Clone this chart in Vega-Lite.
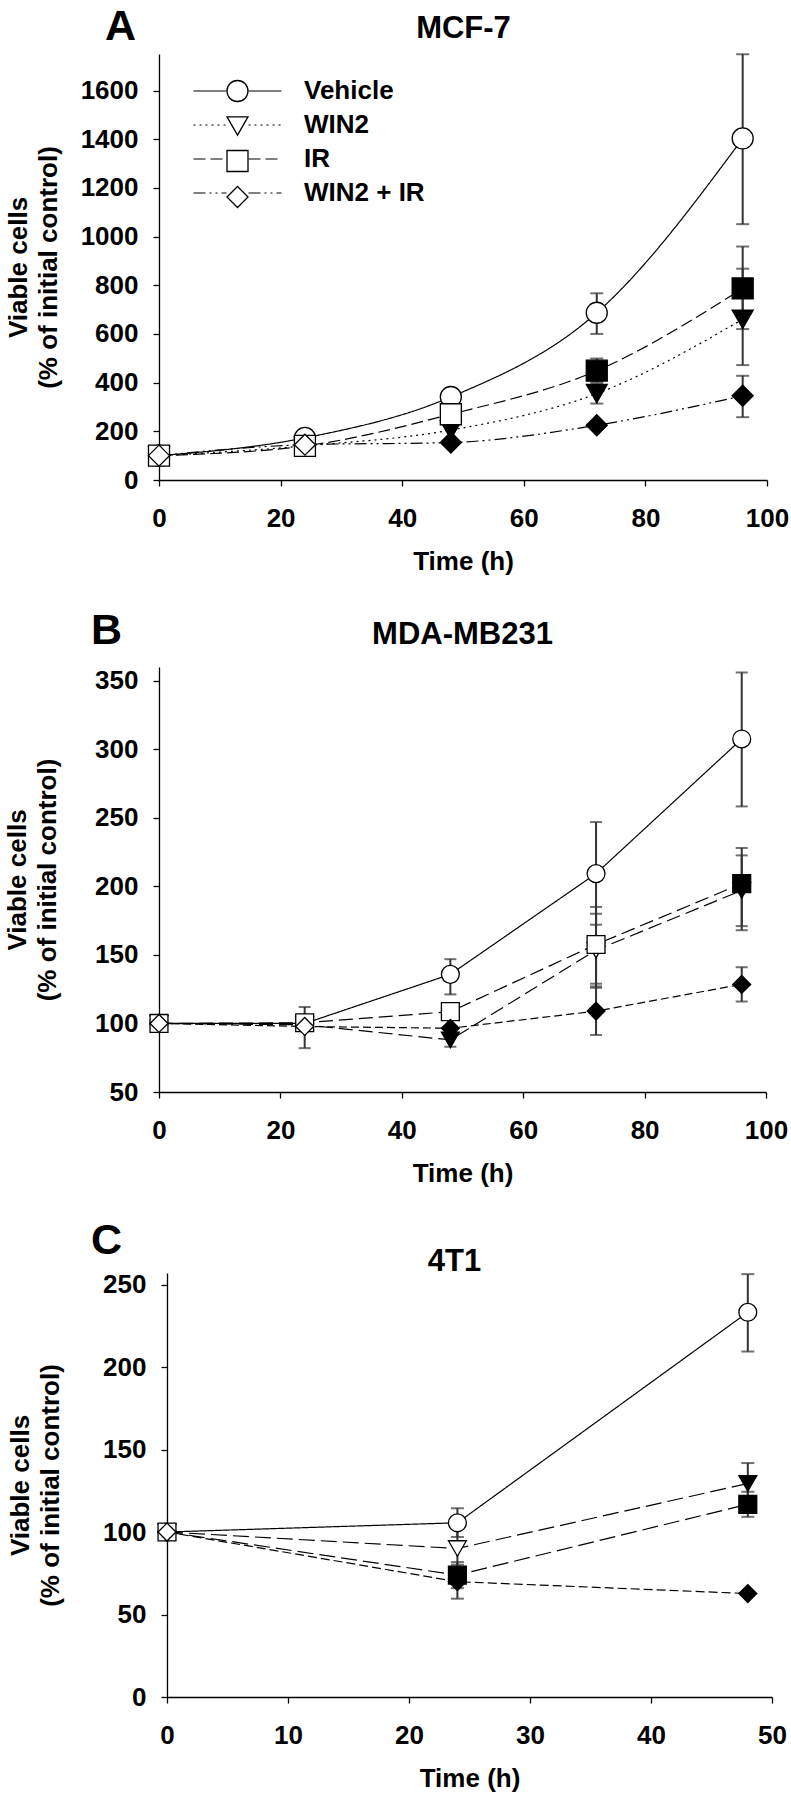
{
  "$schema": "https://vega.github.io/schema/vega-lite/v6.json",
  "background": "white",
  "padding": {"left": 4, "top": 6, "right": 3, "bottom": 2},
  "config": {
    "view": {"stroke": null},
    "font": "Liberation Sans",
    "axis": {"domainColor": "black", "domainWidth": 1.3, "tickColor": "black", "tickWidth": 1.3, "tickSize": 6, "labelFont": "Liberation Sans", "labelFontSize": 26, "labelFontWeight": "bold", "labelColor": "black", "titleFont": "Liberation Sans", "titleFontSize": 26, "titleFontWeight": "bold", "titleColor": "black", "grid": false},
    "title": {"font": "Liberation Sans", "fontSize": 43, "fontWeight": "bold", "color": "black", "anchor": "start", "frame": "group", "baseline": "alphabetic"}
  },
  "datasets": {
    "mcf7": [
      {"t": 0, "group": "Vehicle", "v": 100, "sig": "no"},
      {"t": 24, "group": "Vehicle", "v": 173, "sig": "no"},
      {"t": 48, "group": "Vehicle", "v": 341, "sig": "no"},
      {"t": 72, "group": "Vehicle", "v": 687, "lo": 600, "hi": 767, "sig": "no"},
      {"t": 96, "group": "Vehicle", "v": 1403, "lo": 1051, "hi": 1749, "sig": "no"},
      {"t": 0, "group": "WIN2", "v": 100, "sig": "no"},
      {"t": 24, "group": "WIN2", "v": 140, "sig": "no"},
      {"t": 48, "group": "WIN2", "v": 205, "sig": "yes"},
      {"t": 72, "group": "WIN2", "v": 355, "lo": 314, "hi": 396, "sig": "yes"},
      {"t": 96, "group": "WIN2", "v": 660, "lo": 472, "hi": 868, "sig": "yes"},
      {"t": 0, "group": "IR", "v": 100, "sig": "no"},
      {"t": 24, "group": "IR", "v": 140, "sig": "no"},
      {"t": 48, "group": "IR", "v": 270, "sig": "no"},
      {"t": 72, "group": "IR", "v": 449, "lo": 403, "hi": 499, "sig": "yes"},
      {"t": 96, "group": "IR", "v": 787, "lo": 620, "hi": 959, "sig": "yes"},
      {"t": 0, "group": "WIN2 + IR", "v": 100, "sig": "no"},
      {"t": 24, "group": "WIN2 + IR", "v": 145, "sig": "no"},
      {"t": 48, "group": "WIN2 + IR", "v": 154, "sig": "yes"},
      {"t": 72, "group": "WIN2 + IR", "v": 225, "sig": "yes"},
      {"t": 96, "group": "WIN2 + IR", "v": 346, "lo": 258, "hi": 428, "sig": "yes"}
    ],
    "mda": [
      {"t": 0, "group": "Vehicle", "v": 100, "sig": "no"},
      {"t": 24, "group": "Vehicle", "v": 100, "sig": "no"},
      {"t": 48, "group": "Vehicle", "v": 135.8, "lo": 121.2, "hi": 146.9, "sig": "no"},
      {"t": 72, "group": "Vehicle", "v": 209.3, "lo": 172, "hi": 246.9, "sig": "no"},
      {"t": 96, "group": "Vehicle", "v": 307.5, "lo": 258.3, "hi": 356, "sig": "no"},
      {"t": 0, "group": "WIN2", "v": 100, "sig": "no"},
      {"t": 24, "group": "WIN2", "v": 99, "sig": "no"},
      {"t": 48, "group": "WIN2", "v": 88, "lo": 83, "hi": 93, "sig": "yes"},
      {"t": 72, "group": "WIN2", "v": 153.5, "lo": 126, "hi": 180, "sig": "no"},
      {"t": 96, "group": "WIN2", "v": 197, "lo": 171, "hi": 222.6, "sig": "yes"},
      {"t": 0, "group": "IR", "v": 100, "sig": "no"},
      {"t": 24, "group": "IR", "v": 100.5, "sig": "no"},
      {"t": 48, "group": "IR", "v": 108.6, "sig": "no"},
      {"t": 72, "group": "IR", "v": 157.6, "lo": 129, "hi": 185, "sig": "no"},
      {"t": 96, "group": "IR", "v": 202, "lo": 168, "hi": 228, "sig": "yes"},
      {"t": 0, "group": "WIN2 + IR", "v": 100, "sig": "no"},
      {"t": 24, "group": "WIN2 + IR", "v": 97.8, "lo": 82, "hi": 112, "sig": "no"},
      {"t": 48, "group": "WIN2 + IR", "v": 96.5, "sig": "yes"},
      {"t": 72, "group": "WIN2 + IR", "v": 109, "lo": 91.6, "hi": 127, "sig": "yes"},
      {"t": 96, "group": "WIN2 + IR", "v": 128.5, "lo": 116, "hi": 141, "sig": "yes"}
    ],
    "t41": [
      {"t": 0, "group": "Vehicle", "v": 100, "sig": "no"},
      {"t": 24, "group": "Vehicle", "v": 105.6, "lo": 97, "hi": 114.4, "sig": "no"},
      {"t": 48, "group": "Vehicle", "v": 233.2, "lo": 209.4, "hi": 256.3, "sig": "no"},
      {"t": 0, "group": "WIN2", "v": 100, "sig": "no"},
      {"t": 24, "group": "WIN2", "v": 90, "lo": 76, "hi": 104, "sig": "no"},
      {"t": 48, "group": "WIN2", "v": 129.4, "lo": 117, "hi": 141.8, "sig": "yes"},
      {"t": 0, "group": "IR", "v": 100, "sig": "no"},
      {"t": 24, "group": "IR", "v": 73.9, "lo": 66, "hi": 81.8, "sig": "yes"},
      {"t": 48, "group": "IR", "v": 116.8, "lo": 109.2, "hi": 124.4, "sig": "yes"},
      {"t": 0, "group": "WIN2 + IR", "v": 100, "sig": "no"},
      {"t": 24, "group": "WIN2 + IR", "v": 69.9, "lo": 59.6, "hi": 80.2, "sig": "yes"},
      {"t": 48, "group": "WIN2 + IR", "v": 62.7, "sig": "yes"}
    ]
  },
  "bounds": "flush",
  "spacing": 187,
  "resolve": {"scale": {"strokeDash": "independent", "shape": "independent", "fill": "independent"}, "legend": {"strokeDash": "independent", "shape": "independent"}},
  "vconcat": [
    {
      "width": 608,
      "height": 426,
      "data": {"name": "mcf7"},
      "title": {"text": "A", "dx": -54, "offset": -37},
      "resolve": {"axis": {"x": "independent"}},
      "layer": [
        {
          "transform": [{"filter": "datum.lo != null"}],
          "mark": {"type": "rule", "stroke": "#333333", "strokeWidth": 2},
          "encoding": {
            "x": {"field": "t", "type": "quantitative", "scale": {"domain": [0, 100], "nice": false}, "axis": {"orient": "bottom", "values": [0, 20, 40, 60, 80, 100], "format": "d", "labelFlush": false, "labelOverlap": false, "title": "Time (h)", "labelPadding": 19, "titlePadding": 17}},
            "y": {"field": "lo", "type": "quantitative", "scale": {"domain": [0, 1750], "nice": false}, "axis": {"orient": "left", "values": [0, 200, 400, 600, 800, 1000, 1200, 1400, 1600], "format": "d", "labelFlush": false, "labelOverlap": false, "title": ["Viable cells", "(% of initial control)"], "titleLineHeight": 30, "labelPadding": 15, "titlePadding": 19}},
            "y2": {"field": "hi"}
          }
        },
        {
          "transform": [{"filter": "datum.lo != null"}],
          "mark": {"type": "tick", "orient": "horizontal", "size": 13, "thickness": 2, "color": "#333333"},
          "encoding": {
            "x": {"field": "t", "type": "quantitative", "axis": null},
            "y": {"field": "lo", "type": "quantitative"}
          }
        },
        {
          "transform": [{"filter": "datum.hi != null"}],
          "mark": {"type": "tick", "orient": "horizontal", "size": 13, "thickness": 2, "color": "#333333"},
          "encoding": {
            "x": {"field": "t", "type": "quantitative", "axis": null},
            "y": {"field": "hi", "type": "quantitative"}
          }
        },
        {
          "mark": {"type": "line", "color": "black", "strokeWidth": 1.2, "interpolate": "monotone"},
          "encoding": {
            "x": {"field": "t", "type": "quantitative", "axis": null},
            "y": {"field": "v", "type": "quantitative"},
            "strokeDash": {
              "field": "group", "type": "nominal",
              "scale": {"domain": ["Vehicle", "WIN2", "IR", "WIN2 + IR"], "range": [[1, 0], [2, 4], [12, 5], [12, 4, 2, 4, 2, 4]]},
              "legend": {"orient": "top-left", "offset": 24, "padding": 0, "title": null, "symbolType": "M-0.238,0L2.905,0M5,0L8.143,0", "symbolSize": 441, "symbolStrokeWidth": 1.2, "symbolStrokeColor": "black", "symbolFillColor": "transparent", "labelFontSize": 26, "labelFont": "Liberation Sans", "labelFontWeight": "bold", "labelColor": "black", "labelOffset": 95, "labelLimit": 400, "rowPadding": 8,
                "encode": {"symbols": {"update": {"stroke": {"value": "black"}, "strokeWidth": {"value": 1.2}, "fill": {"value": "transparent"}}}}}
            }
          }
        },
        {
          "mark": {"type": "point", "filled": true, "stroke": "black", "strokeWidth": 1.3, "opacity": 1, "size": 441},
          "encoding": {
            "x": {"field": "t", "type": "quantitative", "axis": {"orient": "top", "title": "MCF-7", "labels": false, "ticks": false, "domain": false, "titleX": 304, "titleY": -17, "titleFontSize": 31, "titleAlign": "center", "titleBaseline": "alphabetic", "titleAngle": 0}},
            "y": {"field": "v", "type": "quantitative"},
            "shape": {
              "field": "group", "type": "nominal",
              "scale": {"domain": ["Vehicle", "WIN2", "IR", "WIN2 + IR"], "range": ["circle", "triangle-down", "square", "diamond"]},
              "legend": {"orient": "none", "legendX": 65.5, "legendY": 24, "padding": 0, "title": null, "symbolSize": 441, "symbolFillColor": "white", "symbolStrokeColor": "black", "symbolStrokeWidth": 1.3, "labelFontSize": 26, "labelFont": "Liberation Sans", "labelFontWeight": "bold", "labelOpacity": 0, "labelExpr": "' '", "labelOffset": 95, "labelLimit": 400, "rowPadding": 8,
                "encode": {"symbols": {"update": {"fill": {"value": "white"}, "stroke": {"value": "black"}, "strokeWidth": {"value": 1.3}, "opacity": {"value": 1}}}}}
            },
            "fill": {"field": "sig", "type": "nominal", "scale": {"domain": ["yes", "no"], "range": ["black", "white"]}, "legend": null}
          }
        }
      ]
    },
    {
      "bounds": "flush",
      "spacing": 181,
      "resolve": {"scale": {"strokeDash": "independent", "shape": "independent", "fill": "independent"}},
      "vconcat": [
        {
          "width": 607,
          "height": 425,
          "data": {"name": "mda"},
          "title": {"text": "B", "dx": -68, "offset": -35},
          "resolve": {"axis": {"x": "independent"}},
          "layer": [
            {
              "transform": [{"filter": "datum.lo != null"}],
              "mark": {"type": "rule", "stroke": "#333333", "strokeWidth": 2},
              "encoding": {
                "x": {"field": "t", "type": "quantitative", "scale": {"domain": [0, 100], "nice": false}, "axis": {"orient": "bottom", "values": [0, 20, 40, 60, 80, 100], "format": "d", "labelFlush": false, "labelOverlap": false, "title": "Time (h)", "labelPadding": 19, "titlePadding": 17}},
                "y": {"field": "lo", "type": "quantitative", "scale": {"domain": [50, 360], "nice": false, "zero": false}, "axis": {"orient": "left", "values": [50, 100, 150, 200, 250, 300, 350], "format": "d", "labelFlush": false, "labelOverlap": false, "title": ["Viable cells", "(% of initial control)"], "titleLineHeight": 30, "labelPadding": 15, "titlePadding": 34}},
                "y2": {"field": "hi"}
              }
            },
            {
              "transform": [{"filter": "datum.lo != null"}],
              "mark": {"type": "tick", "orient": "horizontal", "size": 12, "thickness": 2, "color": "#333333"},
              "encoding": {
                "x": {"field": "t", "type": "quantitative", "axis": null},
                "y": {"field": "lo", "type": "quantitative"}
              }
            },
            {
              "transform": [{"filter": "datum.hi != null"}],
              "mark": {"type": "tick", "orient": "horizontal", "size": 12, "thickness": 2, "color": "#333333"},
              "encoding": {
                "x": {"field": "t", "type": "quantitative", "axis": null},
                "y": {"field": "hi", "type": "quantitative"}
              }
            },
            {
              "mark": {"type": "line", "color": "black", "strokeWidth": 1.2},
              "encoding": {
                "x": {"field": "t", "type": "quantitative", "axis": null},
                "y": {"field": "v", "type": "quantitative"},
                "strokeDash": {"field": "group", "type": "nominal", "scale": {"domain": ["Vehicle", "WIN2", "IR", "WIN2 + IR"], "range": [[1, 0], [14, 6], [14, 6], [8, 4]]}, "legend": null}
              }
            },
            {
              "mark": {"type": "point", "filled": true, "stroke": "black", "strokeWidth": 1.3, "opacity": 1, "size": 320},
              "encoding": {
                "x": {"field": "t", "type": "quantitative", "axis": {"orient": "top", "title": "MDA-MB231", "labels": false, "ticks": false, "domain": false, "titleX": 303, "titleY": -24, "titleFontSize": 31, "titleAlign": "center", "titleBaseline": "alphabetic", "titleAngle": 0}},
                "y": {"field": "v", "type": "quantitative"},
                "shape": {"field": "group", "type": "nominal", "scale": {"domain": ["Vehicle", "WIN2", "IR", "WIN2 + IR"], "range": ["circle", "triangle-down", "square", "diamond"]}, "legend": null},
                "fill": {"field": "sig", "type": "nominal", "scale": {"domain": ["yes", "no"], "range": ["black", "white"]}, "legend": null}
              }
            }
          ]
        },
        {
          "width": 613,
          "height": 424,
          "data": {"name": "t41"},
          "title": {"text": "C", "dx": -68, "offset": -18},
          "resolve": {"axis": {"x": "independent"}},
          "layer": [
            {
              "transform": [{"filter": "datum.lo != null"}],
              "mark": {"type": "rule", "stroke": "#333333", "strokeWidth": 2},
              "encoding": {
                "x": {"field": "t", "type": "quantitative", "scale": {"domain": [0, 50], "nice": false, "range": [8, 613]}, "axis": {"orient": "bottom", "values": [0, 10, 20, 30, 40, 50], "format": "d", "labelFlush": false, "labelOverlap": false, "title": "Time (h)", "labelPadding": 19, "titlePadding": 17}},
                "y": {"field": "lo", "type": "quantitative", "scale": {"domain": [0, 257], "nice": false}, "axis": {"orient": "left", "offset": -8, "values": [0, 50, 100, 150, 200, 250], "format": "d", "labelFlush": false, "labelOverlap": false, "title": ["Viable cells", "(% of initial control)"], "titleLineHeight": 30, "labelPadding": 15, "titlePadding": 39}},
                "y2": {"field": "hi"}
              }
            },
            {
              "transform": [{"filter": "datum.lo != null"}],
              "mark": {"type": "tick", "orient": "horizontal", "size": 13, "thickness": 2, "color": "#333333"},
              "encoding": {
                "x": {"field": "t", "type": "quantitative", "axis": null},
                "y": {"field": "lo", "type": "quantitative"}
              }
            },
            {
              "transform": [{"filter": "datum.hi != null"}],
              "mark": {"type": "tick", "orient": "horizontal", "size": 13, "thickness": 2, "color": "#333333"},
              "encoding": {
                "x": {"field": "t", "type": "quantitative", "axis": null},
                "y": {"field": "hi", "type": "quantitative"}
              }
            },
            {
              "mark": {"type": "line", "color": "black", "strokeWidth": 1.2},
              "encoding": {
                "x": {"field": "t", "type": "quantitative", "axis": null},
                "y": {"field": "v", "type": "quantitative"},
                "strokeDash": {"field": "group", "type": "nominal", "scale": {"domain": ["Vehicle", "WIN2", "IR", "WIN2 + IR"], "range": [[1, 0], [16, 6], [16, 6], [9, 4]]}, "legend": null}
              }
            },
            {
              "mark": {"type": "point", "filled": true, "stroke": "black", "strokeWidth": 1.3, "opacity": 1, "size": 320},
              "encoding": {
                "x": {"field": "t", "type": "quantitative", "axis": {"orient": "top", "title": "4T1", "labels": false, "ticks": false, "domain": false, "titleX": 295, "titleY": -3, "titleFontSize": 31, "titleAlign": "center", "titleBaseline": "alphabetic", "titleAngle": 0}},
                "y": {"field": "v", "type": "quantitative"},
                "shape": {"field": "group", "type": "nominal", "scale": {"domain": ["Vehicle", "WIN2", "IR", "WIN2 + IR"], "range": ["circle", "triangle-down", "square", "diamond"]}, "legend": null},
                "fill": {"field": "sig", "type": "nominal", "scale": {"domain": ["yes", "no"], "range": ["black", "white"]}, "legend": null}
              }
            }
          ]
        }
      ]
    }
  ]
}
